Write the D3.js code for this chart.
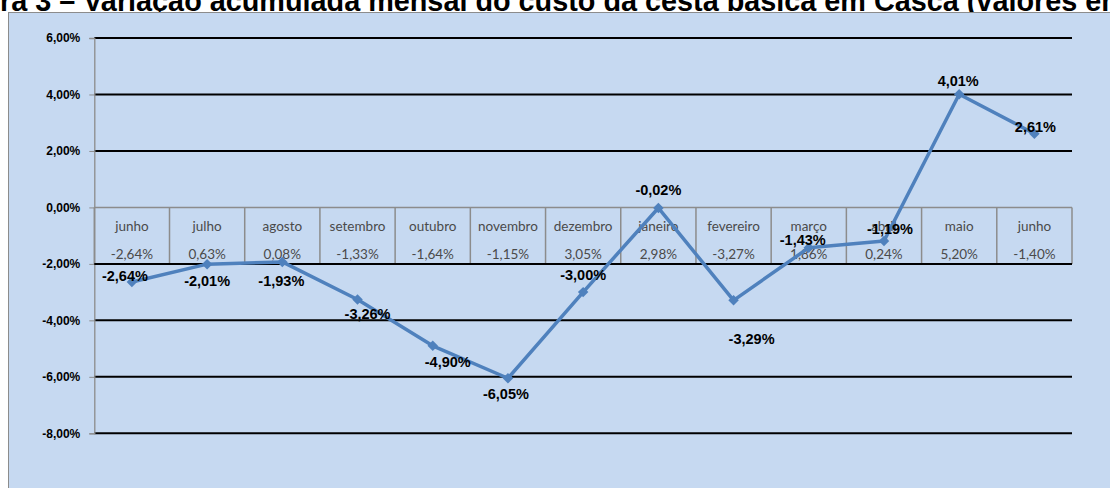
<!DOCTYPE html>
<html lang="pt">
<head>
  <meta charset="UTF-8">
  <script src="https://cdn.jsdelivr.net/npm/d3@7"></script>
  <title>Cesta básica Casca</title>
  <style>
    body { margin: 0; background: #fff; overflow: hidden; }
  </style>
</head>
<body>
  <svg width="1110" height="488" id="chart"></svg>
  <script>
    // data
    let months = ["junho","julho","agosto","setembro","outubro","novembro","dezembro",
                  "janeiro","fevereiro","março","abril","maio","junho"];
    let accumulated = [-2.64, -2.01, -1.93, -3.26, -4.90, -6.05, -3.00, -0.02, -3.29, -1.43, -1.19, 4.01, 2.61];
    let monthly = [-2.64, 0.63, 0.08, -1.33, -1.64, -1.15, 3.05, 2.98, -3.27, 1.86, 0.24, 5.20, -1.40];
    let yTicks = [-8, -6, -4, -2, 0, 2, 4, 6];

    // label nudges (Excel put the data labels in slightly odd places)
    let labelNudge = [[-7,-6],[0,17],[-1,19],[10,14],[15,16],[-2,16],[0,-17],
                      [0,-18],[18,39],[-6,-8],[6,-12],[-1,-13],[1,-7]];

    // brazilian number format, plain hyphen for the minus
    let ptBR = d3.formatLocale({decimal: ",", thousands: ".", grouping: [3], currency: ["R$", ""], minus: "-"});
    let fmt = v => ptBR.format(".2f")(v) + "%";

    let svg = d3.select("#chart");
    let plotLeft = 94.3, plotRight = 1072, plotTop = 38, plotBottom = 433.3;

    // title (runs off both sides of the picture)
    let title = svg.append("text")
      .attr("y", 10.5)
      .style("font-family", "Arial, 'Liberation Sans', sans-serif")
      .style("font-weight", "bold")
      .style("font-size", "28.8px")
      .text("Figura 3 – Variação acumulada mensal do custo da cesta básica em Casca (valores em %)");
    let probe = svg.append("text")
      .style("font-family", "Arial, 'Liberation Sans', sans-serif")
      .style("font-weight", "bold")
      .style("font-size", "28.8px")
      .text("Figu");
    title.attr("x", -probe.node().getComputedTextLength());
    probe.remove();

    // chart area
    svg.append("rect")
      .attr("x", 8.5).attr("y", 12.5)
      .attr("width", 1120).attr("height", 490)
      .attr("fill", "#c6d9f1")
      .attr("stroke", "#8c8c8c");

    /* SCALES */
    let x = d3.scaleBand()
      .domain(d3.range(months.length))
      .range([plotLeft, plotRight]);
    let y = d3.scaleLinear()
      .domain([-8, 6])
      .range([plotBottom, plotTop]);

    // gridlines
    svg.append("g").selectAll("line")
      .data(yTicks.filter(t => t !== 0))
      .enter().append("line")
      .attr("x1", plotLeft).attr("x2", plotRight)
      .attr("y1", d => y(d)).attr("y2", d => y(d))
      .attr("stroke", "#000")
      .attr("stroke-width", 2);

    /* AXIS */
    let axisY = d3.axisLeft(y)
      .tickValues(yTicks)
      .tickSize(5)
      .tickFormat(fmt);
    let gy = svg.append("g")
      .attr("transform", "translate(" + plotLeft + ",0)")
      .call(axisY);
    gy.select(".domain").attr("stroke", "#8c8c8c").attr("stroke-width", 1.3);
    gy.selectAll(".tick line").attr("stroke", "#8c8c8c");
    gy.selectAll(".tick text")
      .attr("x", -14)
      .style("font-family", "Arial, 'Liberation Sans', sans-serif")
      .style("font-weight", "bold")
      .style("font-size", "12px")
      .attr("fill", "#000");

    // data table under the 0% line
    let table = svg.append("g");
    table.append("line")
      .attr("x1", plotLeft).attr("x2", plotRight)
      .attr("y1", y(0)).attr("y2", y(0))
      .attr("stroke", "#8c8c8c").attr("stroke-width", 1.5);
    table.selectAll(".vline")
      .data(d3.range(months.length + 1))
      .enter().append("line")
      .attr("x1", i => plotLeft + i * x.bandwidth())
      .attr("x2", i => plotLeft + i * x.bandwidth())
      .attr("y1", y(0)).attr("y2", y(-2))
      .attr("stroke", "#8c8c8c").attr("stroke-width", 1.5);
    table.selectAll(".cat")
      .data(months)
      .enter().append("text")
      .attr("x", (d, i) => x(i) + x.bandwidth() / 2)
      .attr("y", y(0) + 24)
      .attr("text-anchor", "middle")
      .style("font-family", "Lato, sans-serif")
      .style("font-size", "13.5px")
      .attr("fill", "#4a4a4a")
      .text(d => d);
    table.selectAll(".val")
      .data(monthly)
      .enter().append("text")
      .attr("x", (d, i) => x(i) + x.bandwidth() / 2)
      .attr("y", y(0) + 52)
      .attr("text-anchor", "middle")
      .style("font-family", "Lato, sans-serif")
      .style("font-size", "13.5px")
      .attr("fill", "#4a4a4a")
      .text(d => fmt(d));
    table.append("line")
      .attr("x1", plotLeft).attr("x2", plotRight)
      .attr("y1", y(-2)).attr("y2", y(-2))
      .attr("stroke", "#000").attr("stroke-width", 2);

    /* PLOT DATA */
    let line = d3.line()
      .x((d, i) => x(i) + x.bandwidth() / 2)
      .y(d => y(d));
    svg.append("path")
      .datum(accumulated)
      .attr("d", line)
      .attr("fill", "none")
      .attr("stroke", "#4f81bd")
      .attr("stroke-width", 3.5)
      .attr("stroke-linejoin", "round");

    svg.selectAll(".marker")
      .data(accumulated)
      .enter().append("path")
      .attr("d", d3.symbol().type(d3.symbolDiamond2).size(70))
      .attr("transform", (d, i) => "translate(" + (x(i) + x.bandwidth() / 2) + "," + y(d) + ")")
      .attr("fill", "#4f81bd");

    svg.selectAll(".label")
      .data(accumulated)
      .enter().append("text")
      .attr("x", (d, i) => x(i) + x.bandwidth() / 2 + labelNudge[i][0])
      .attr("y", (d, i) => y(d) + labelNudge[i][1])
      .attr("dy", "0.35em")
      .attr("text-anchor", "middle")
      .style("font-family", "Arial, 'Liberation Sans', sans-serif")
      .style("font-weight", "bold")
      .style("font-size", "14.5px")
      .attr("fill", "#000")
      .text(d => fmt(d));
  </script>
</body>
</html>
